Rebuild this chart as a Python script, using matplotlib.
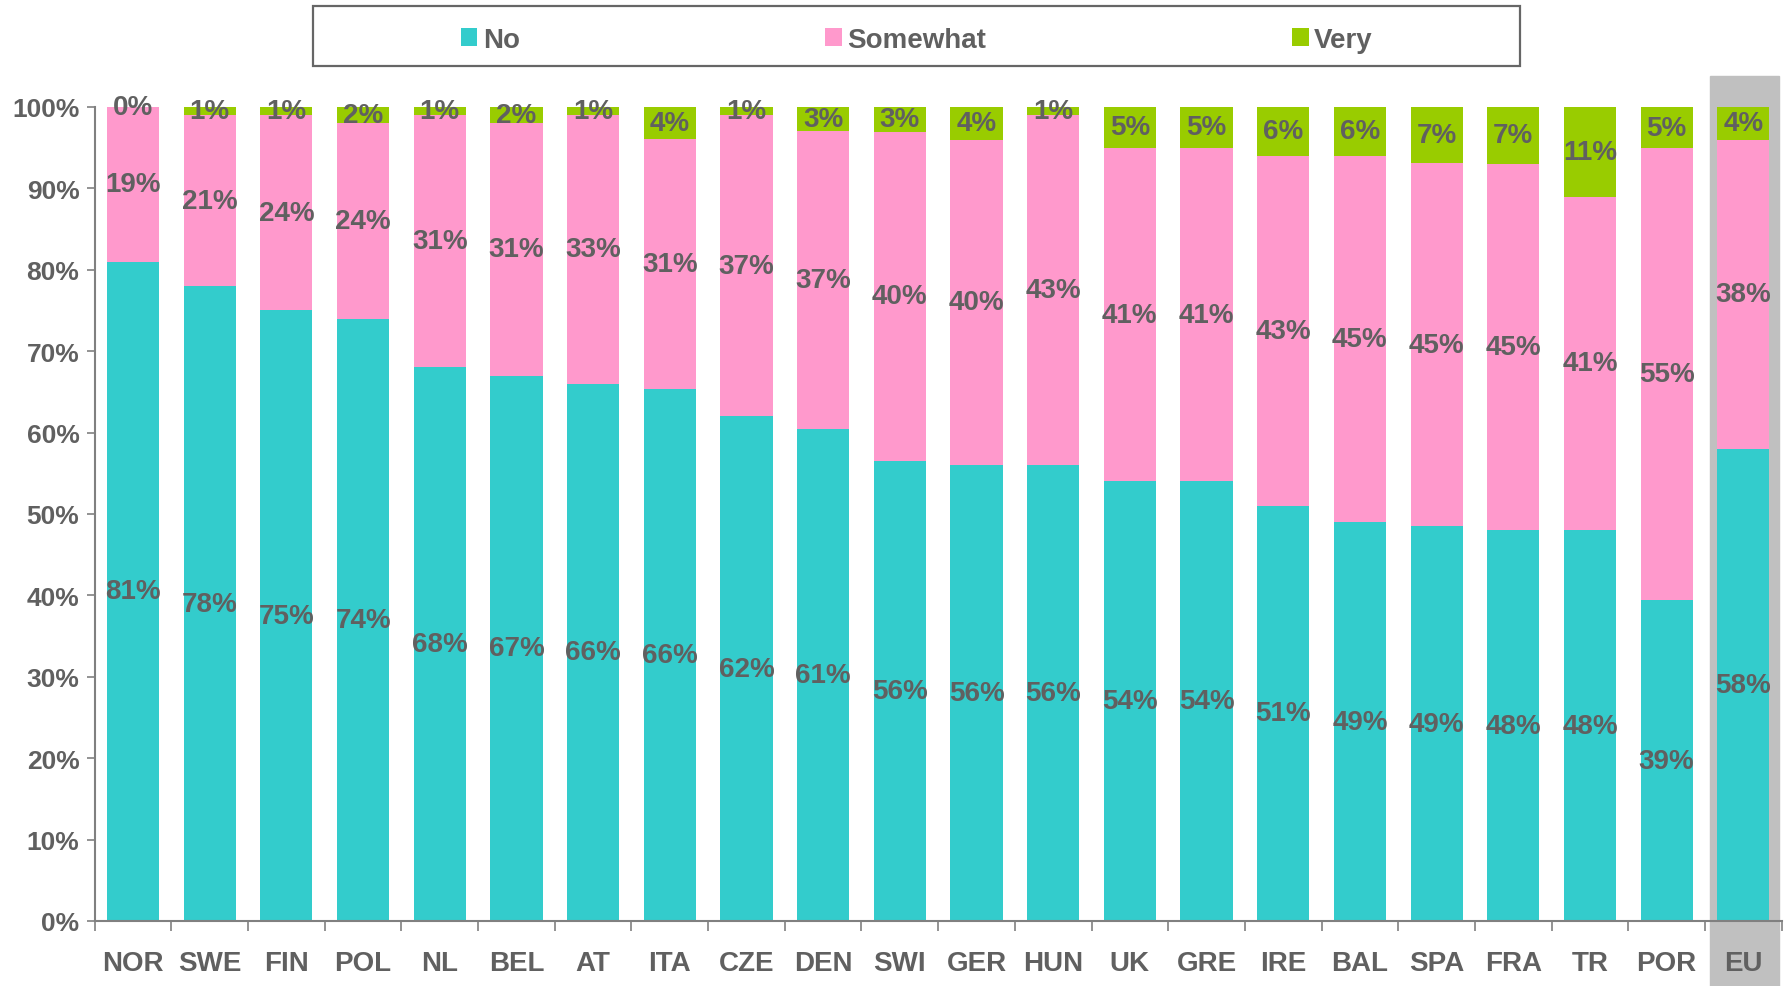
import numpy as np
import matplotlib.pyplot as plt
from matplotlib.patches import Rectangle

plt.rcParams['font.family'] = ['Liberation Sans', 'DejaVu Sans']
plt.rcParams['font.weight'] = 'bold'

countries = ['NOR', 'SWE', 'FIN', 'POL', 'NL', 'BEL', 'AT', 'ITA', 'CZE', 'DEN', 'SWI',
             'GER', 'HUN', 'UK', 'GRE', 'IRE', 'BAL', 'SPA', 'FRA', 'TR', 'POR', 'EU']
no = np.array([81, 78, 75, 74, 68, 67, 66, 66, 62, 61, 56, 56, 56, 54, 54, 51, 49, 49, 48, 48, 39, 58])
somewhat = np.array([19, 21, 24, 24, 31, 31, 33, 31, 37, 37, 40, 40, 43, 41, 41, 43, 45, 45, 45, 41, 55, 38])
very = np.array([0, 1, 1, 2, 1, 2, 1, 4, 1, 3, 3, 4, 1, 5, 5, 6, 6, 7, 7, 11, 5, 4])
series_names = ['No', 'Somewhat', 'Very']

colors = ['#33CCCC', '#FF99CC', '#99CC00']
txt = '#606060'
axis_col = '#808080'

fig = plt.figure(figsize=(17.87, 9.87), dpi=100)
ax = fig.add_axes([0.053, 0.0659, 0.944, 0.8247])

x = np.arange(len(countries))
total = no + somewhat + very
bottom = np.zeros(len(countries))
for vals, name, col in zip([no, somewhat, very], series_names, colors):
    h = vals / total
    ax.bar(x, h, 0.68, bottom=bottom, color=col, label=name, zorder=2)
    for xi, b, hi, v in zip(x, bottom, h, vals):
        ax.text(xi, b + hi / 2, f'{v}%', ha='center', va='center', fontsize=20,
                fontweight='bold', color=txt, zorder=4)
    bottom += h

# grey highlight behind the EU column
ax.axvspan(20.56, 21.47, ymin=-0.08, ymax=1.038, color='#C0C0C0', zorder=0, clip_on=False)

ax.set_xlim(-0.5, len(countries) - 0.5)
ax.set_ylim(0, 1)
ax.set_yticks(np.arange(0, 1.01, 0.1))
ax.set_yticklabels([f'{int(round(v * 100))}%' for v in np.arange(0, 1.01, 0.1)])
ax.set_xticks(x)
ax.set_xticklabels(countries)
ax.set_xticks(np.arange(-0.5, len(countries), 1), minor=True)

ax.tick_params(axis='y', length=6, width=1.2, color=axis_col, pad=5,
               labelsize=19, labelcolor=txt)
ax.tick_params(axis='x', which='major', length=0, pad=21, labelsize=20, labelcolor=txt)
ax.tick_params(axis='x', which='minor', length=7, width=1.2, color=axis_col)

for s in ['top', 'right']:
    ax.spines[s].set_visible(False)
for s in ['left', 'bottom']:
    ax.spines[s].set_color(axis_col)
    ax.spines[s].set_linewidth(1.5)
    ax.spines[s].set_zorder(5)

# legend box across the top
fig.patches.append(Rectangle((0.1754, 0.9324), 0.6752, 0.0608, transform=fig.transFigure,
                             fill=False, edgecolor='#666666', linewidth=1.6))
fig.legend(loc='center', bbox_to_anchor=(0.1754, 0.9284, 0.6752, 0.0608), ncol=3,
           frameon=False, fontsize=20, labelcolor=txt, handlelength=0.6, handleheight=0.6,
           handletextpad=0.2, columnspacing=11)

fig.savefig('out.png', dpi=100)
